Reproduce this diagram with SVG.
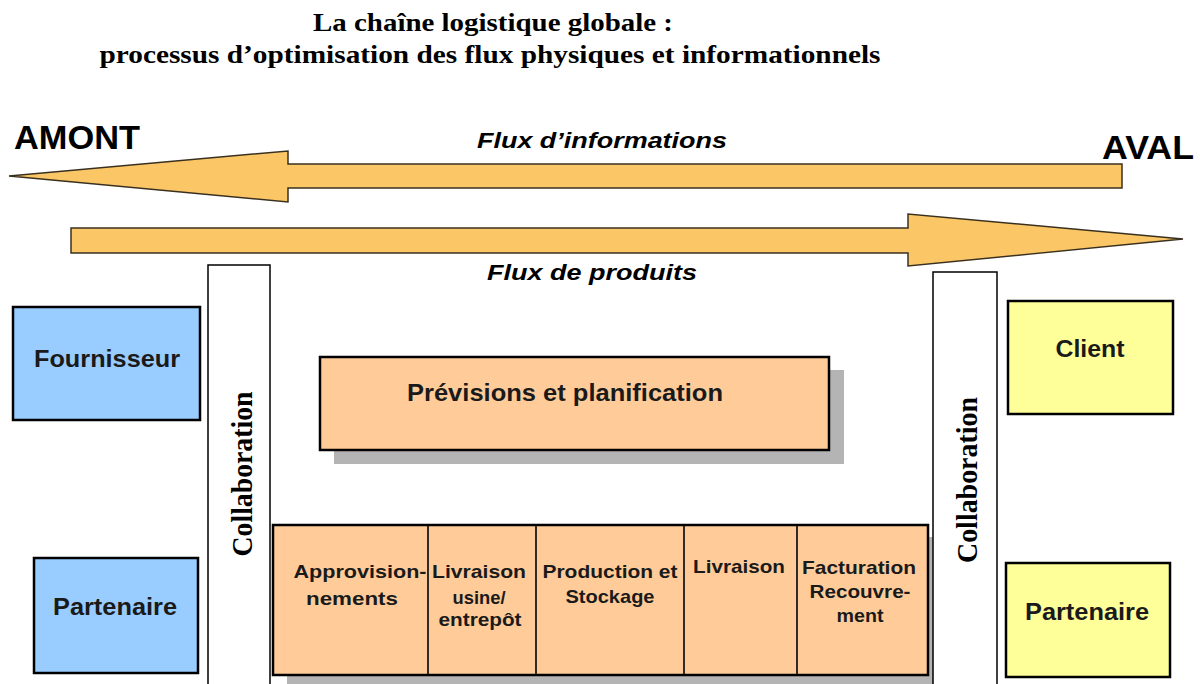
<svg xmlns="http://www.w3.org/2000/svg" width="1200" height="684" viewBox="0 0 1200 684">
<defs>
<style>
.title{font-family:"Liberation Serif","Times New Roman",serif;font-weight:bold;font-size:26px;fill:#000}
.big{font-family:"Liberation Sans",Arial,sans-serif;font-weight:bold;font-size:34px;fill:#000}
.flux{font-family:"Liberation Sans",Arial,sans-serif;font-weight:bold;font-style:italic;font-size:22px;fill:#000}
.lbl{font-family:"Liberation Sans",Arial,sans-serif;font-weight:bold;font-size:24px;fill:#1a1a1a}
.sm{font-family:"Liberation Sans",Arial,sans-serif;font-weight:bold;font-size:19px;fill:#1a1a1a}
.collab{font-family:"Liberation Serif","Times New Roman",serif;font-weight:bold;font-size:30px;fill:#000}
.arrow{fill:#FBC766;stroke:#3a3020;stroke-width:1.5;stroke-linejoin:miter}
.blue{fill:#99CCFF;stroke:#000;stroke-width:2.5}
.yellow{fill:#FFFF99;stroke:#000;stroke-width:2.5}
.peach{fill:#FFCC99;stroke:#000;stroke-width:2.5}
.shadow{fill:#B4B4B4}
.col{fill:#fff;stroke:#000;stroke-width:1.5}
.div{stroke:#1a1a1a;stroke-width:1.8}
</style>
</defs>
<rect width="1200" height="684" fill="#fff"/>
<g id="title">
<text class="title" x="493" y="31" text-anchor="middle" textLength="360" lengthAdjust="spacingAndGlyphs">La chaîne logistique globale :</text>
<text class="title" x="490" y="63" text-anchor="middle" textLength="781" lengthAdjust="spacingAndGlyphs">processus d’optimisation des flux physiques et informationnels</text>
</g>
<g id="connectors">
<path class="arrow" d="M1122,164 L288,164 L288,151 L9,176 L288,202 L288,188 L1122,188 Z"/>
<path class="arrow" d="M71,228 L908,228 L908,214 L1183,239 L908,266 L908,253 L71,253 Z"/>
<text class="flux" x="477" y="148" textLength="250" lengthAdjust="spacingAndGlyphs">Flux d’informations</text>
<text class="flux" x="487" y="280" textLength="210" lengthAdjust="spacingAndGlyphs">Flux de produits</text>
</g>
<g id="amont"><text class="big" x="14" y="149" textLength="126" lengthAdjust="spacingAndGlyphs">AMONT</text></g>
<g id="aval"><text class="big" x="1102" y="159" textLength="92" lengthAdjust="spacingAndGlyphs">AVAL</text></g>
<g id="fournisseur">
<rect class="blue" x="13" y="307" width="187" height="113"/>
<text class="lbl" x="107" y="367" text-anchor="middle" textLength="146" lengthAdjust="spacingAndGlyphs">Fournisseur</text>
</g>
<g id="partenaire-amont">
<rect class="blue" x="34" y="558" width="164" height="115"/>
<text class="lbl" x="115" y="615" text-anchor="middle" textLength="124" lengthAdjust="spacingAndGlyphs">Partenaire</text>
</g>
<g id="client">
<rect class="yellow" x="1008" y="301" width="165" height="113"/>
<text class="lbl" x="1090" y="357" text-anchor="middle" textLength="69" lengthAdjust="spacingAndGlyphs">Client</text>
</g>
<g id="partenaire-aval">
<rect class="yellow" x="1006" y="563" width="164" height="114"/>
<text class="lbl" x="1087" y="620" text-anchor="middle" textLength="124" lengthAdjust="spacingAndGlyphs">Partenaire</text>
</g>
<g id="previsions">
<rect class="shadow" x="334" y="370" width="510" height="94"/>
<rect class="peach" x="320" y="357" width="509" height="93"/>
<text class="lbl" x="565" y="401" text-anchor="middle" textLength="316" lengthAdjust="spacingAndGlyphs">Prévisions et planification</text>
</g>
<g id="processus">
<rect class="shadow" x="287" y="537" width="655" height="150"/>
<rect class="peach" x="273" y="525" width="655" height="150"/>
<line class="div" x1="428" y1="526" x2="428" y2="674"/>
<line class="div" x1="536" y1="526" x2="536" y2="674"/>
<line class="div" x1="684" y1="526" x2="684" y2="674"/>
<line class="div" x1="797" y1="526" x2="797" y2="674"/>
<text class="sm" x="360" y="578" text-anchor="middle" textLength="133" lengthAdjust="spacingAndGlyphs">Approvision-</text>
<text class="sm" x="352" y="605" text-anchor="middle" textLength="92" lengthAdjust="spacingAndGlyphs">nements</text>
<text class="sm" x="479" y="578" text-anchor="middle" textLength="94" lengthAdjust="spacingAndGlyphs">Livraison</text>
<text class="sm" x="479" y="604" text-anchor="middle" textLength="53" lengthAdjust="spacingAndGlyphs">usine/</text>
<text class="sm" x="480" y="626" text-anchor="middle" textLength="83" lengthAdjust="spacingAndGlyphs">entrepôt</text>
<text class="sm" x="610" y="578" text-anchor="middle" textLength="135" lengthAdjust="spacingAndGlyphs">Production et</text>
<text class="sm" x="610" y="603" text-anchor="middle" textLength="89" lengthAdjust="spacingAndGlyphs">Stockage</text>
<text class="sm" x="739" y="573" text-anchor="middle" textLength="92" lengthAdjust="spacingAndGlyphs">Livraison</text>
<text class="sm" x="859" y="574" text-anchor="middle" textLength="114" lengthAdjust="spacingAndGlyphs">Facturation</text>
<text class="sm" x="860" y="598" text-anchor="middle" textLength="101" lengthAdjust="spacingAndGlyphs">Recouvre-</text>
<text class="sm" x="860" y="622" text-anchor="middle" textLength="47" lengthAdjust="spacingAndGlyphs">ment</text>
</g>
<g id="collaboration-amont">
<rect class="col" x="208" y="265" width="62" height="430"/>
<text class="collab" transform="translate(252,474) rotate(-90)" text-anchor="middle" textLength="165" lengthAdjust="spacingAndGlyphs">Collaboration</text>
</g>
<g id="collaboration-aval">
<rect class="col" x="933" y="272" width="64" height="430"/>
<text class="collab" transform="translate(977,480) rotate(-90)" text-anchor="middle" textLength="166" lengthAdjust="spacingAndGlyphs">Collaboration</text>
</g>
</svg>
